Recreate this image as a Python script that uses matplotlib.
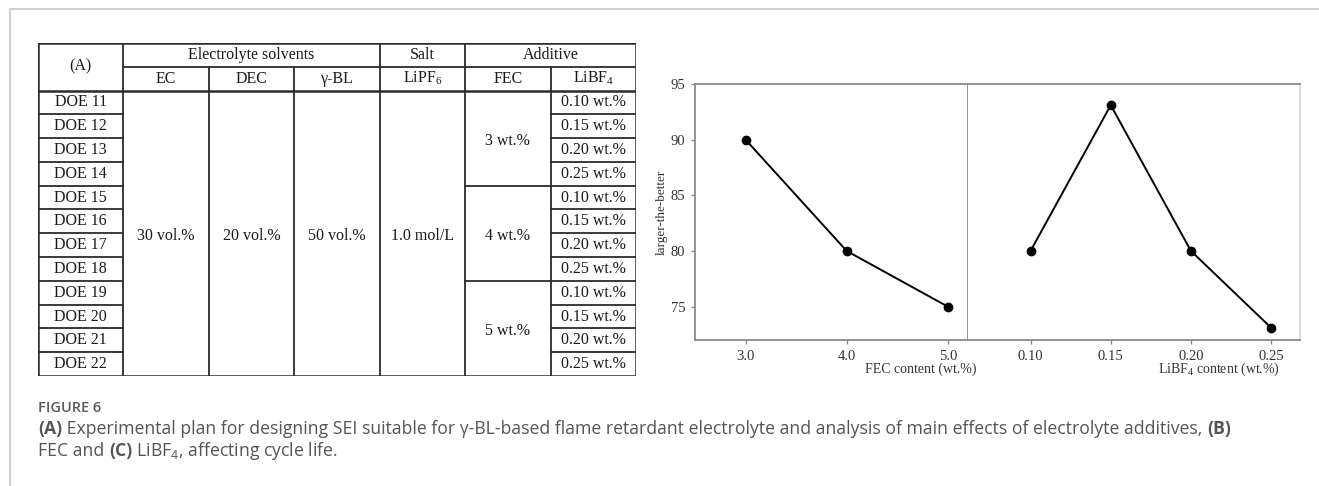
import matplotlib
matplotlib.use("Agg")
import matplotlib.pyplot as plt

# ===============================
# DATA
# ===============================

doe_runs = [f"DOE {n}" for n in range(11, 23)]
ec_vol = "30 vol.%"
dec_vol = "20 vol.%"
gbl_vol = "50 vol.%"
lipf6_conc = "1.0 mol/L"
fec_groups = ["3 wt.%", "4 wt.%", "5 wt.%"]
libf4_levels = ["0.10 wt.%", "0.15 wt.%", "0.20 wt.%", "0.25 wt.%"]

fec_content = [3.0, 4.0, 5.0]
fec_score = [90.0, 80.0, 75.0]
libf4_content = [0.10, 0.15, 0.20, 0.25]
libf4_score = [80.0, 93.1, 80.0, 73.1]

W, H = 1319, 486
SERIF = "Liberation Serif"
LINE = "#2b2b2b"
SPINE = "#8a8a8a"
CAP = "#555555"


def px_box(x0, y0, x1, y1):
    return [x0 / W, 1 - y1 / H, (x1 - x0) / W, (y1 - y0) / H]


fig = plt.figure(figsize=(W / 100, H / 100), dpi=100)

# -------- frame --------
frame = fig.add_axes([0, 0, 1, 1])
frame.set_xlim(0, W)
frame.set_ylim(H, 0)
frame.axis("off")
frame.plot([9.5, W], [9.5, 9.5], color="#cfcfcf", lw=1.5)
frame.plot([9.5, 9.5], [9.5, H], color="#cfcfcf", lw=1.5)

# ===============================
# TABLE (A)
# ===============================

tab = fig.add_axes(px_box(38, 43, 636, 376))
tab.set_xlim(0, 7)
tab.set_ylim(14, 0)
tab.axis("off")
n_rows = len(doe_runs)


def hline(y, x0, x1, lw=1.3):
    tab.plot([x0, x1], [y, y], color=LINE, lw=lw, solid_capstyle="projecting")


def vline(x, y0, y1, lw=1.3):
    tab.plot([x, x], [y0, y1], color=LINE, lw=lw, solid_capstyle="projecting")


def cell(x, y, s):
    tab.text(x, y, s, ha="center", va="center", family=SERIF, fontsize=11.5,
             color="#1a1a1a")


# outer border
hline(0, 0, 7, 1.8)
hline(14, 0, 7, 1.8)
vline(0, 0, 14, 1.8)
vline(7, 0, 14, 1.8)

# header lines
hline(1, 1, 7)
hline(2, 0, 7, 1.8)
for x in [1, 4, 5]:
    vline(x, 0, 14)
for x in [2, 3, 6]:
    vline(x, 1, 14)

cell(0.5, 1.0, "(A)")
cell(2.5, 0.5, "Electrolyte solvents")
cell(4.5, 0.5, "Salt")
cell(6.0, 0.5, "Additive")
for i, s in enumerate(["EC", "DEC", "γ-BL", r"LiPF$\mathregular{_6}$", "FEC",
                       r"LiBF$\mathregular{_4}$"]):
    cell(1.5 + i, 1.5, s)

# data rows
for i, run in enumerate(doe_runs):
    y = 2 + i
    if i > 0:
        hline(y, 0, 1)
        hline(y, 6, 7)
    cell(0.5, y + 0.5, run)
    cell(6.5, y + 0.5, libf4_levels[i % len(libf4_levels)])

mid = 2 + n_rows / 2
for x, s in zip([1.5, 2.5, 3.5, 4.5], [ec_vol, dec_vol, gbl_vol, lipf6_conc]):
    cell(x, mid + 0.1, s)

grp = len(libf4_levels)
for g, s in enumerate(fec_groups):
    y0 = 2 + g * grp
    if g > 0:
        hline(y0, 5, 6)
    cell(5.5, y0 + grp / 2 + 0.1, s)

# ===============================
# MAIN EFFECTS (B), (C)
# ===============================

ax1 = fig.add_axes(px_box(695, 84, 968, 340))
ax2 = fig.add_axes(px_box(968, 84, 1300, 340), sharey=ax1)

ax1.plot(fec_content, fec_score, color="black", lw=1.4, marker="o", ms=6)
ax2.plot(libf4_content, libf4_score, color="black", lw=1.4, marker="o", ms=6)

ax1.set_ylim(72, 95)
ax1.set_xlim(2.5, 5.2)
ax2.set_xlim(0.061, 0.268)
ax1.set_xticks(fec_content)
ax1.set_xticklabels([f"{v:.1f}" for v in fec_content])
ax2.set_xticks(libf4_content)
ax2.set_xticklabels([f"{v:.2f}" for v in libf4_content])
ax1.set_yticks([75, 80, 85, 90, 95])

for ax in (ax1, ax2):
    for side in ax.spines:
        ax.spines[side].set_color(SPINE)
        ax.spines[side].set_linewidth(1.3)
    ax.tick_params(axis="both", direction="out", length=3, width=1,
                   color=SPINE, labelsize=10.5, labelcolor="#333333", pad=4)
    for lab in ax.get_xticklabels() + ax.get_yticklabels():
        lab.set_family(SERIF)
ax2.spines["left"].set_visible(False)
ax2.spines["right"].set_color("#d8d8d8")
ax2.tick_params(axis="y", left=False, labelleft=False)

ax1.set_ylabel("larger-the-better", family=SERIF, fontsize=9.5, color="#333333",
               labelpad=2)
ax1.text(1.03, -0.115, "FEC content (wt.%)", transform=ax1.transAxes,
         ha="right", va="center", family=SERIF, fontsize=10, color="#333333")
ax2.text(0.94, -0.115, r"LiBF$\mathregular{_4}$ content (wt.%)",
         transform=ax2.transAxes, ha="right", va="center", family=SERIF,
         fontsize=10, color="#333333")

# ===============================
# CAPTION
# ===============================

CAP_FONT = "Open Sans"
CAP_SIZE = 12.7
renderer = fig.canvas.get_renderer()


def run_text(x, y, pieces):
    # consecutive pieces of one caption line, each with its own weight
    for s, weight in pieces:
        t = fig.text(x / W, 1 - y / H, s, ha="left", va="center",
                     family=CAP_FONT, fontsize=CAP_SIZE, color=CAP,
                     fontweight=weight)
        x += t.get_window_extent(renderer).width


fig.text(38 / W, 1 - 408 / H, "FIGURE 6", ha="left", va="center",
         family=CAP_FONT, fontsize=10.5, color="#5a5a5a", fontweight="semibold")
run_text(38, 429, [
    ("(A)", "bold"),
    (" Experimental plan for designing SEI suitable for γ-BL-based flame "
     "retardant electrolyte and analysis of main effects of electrolyte "
     "additives, ", "normal"),
    ("(B)", "bold"),
])
run_text(38, 451, [
    ("FEC and ", "normal"),
    ("(C)", "bold"),
    (r" LiBF$\mathregular{_4}$, affecting cycle life.", "normal"),
])

fig.savefig("out.png", dpi=100)
